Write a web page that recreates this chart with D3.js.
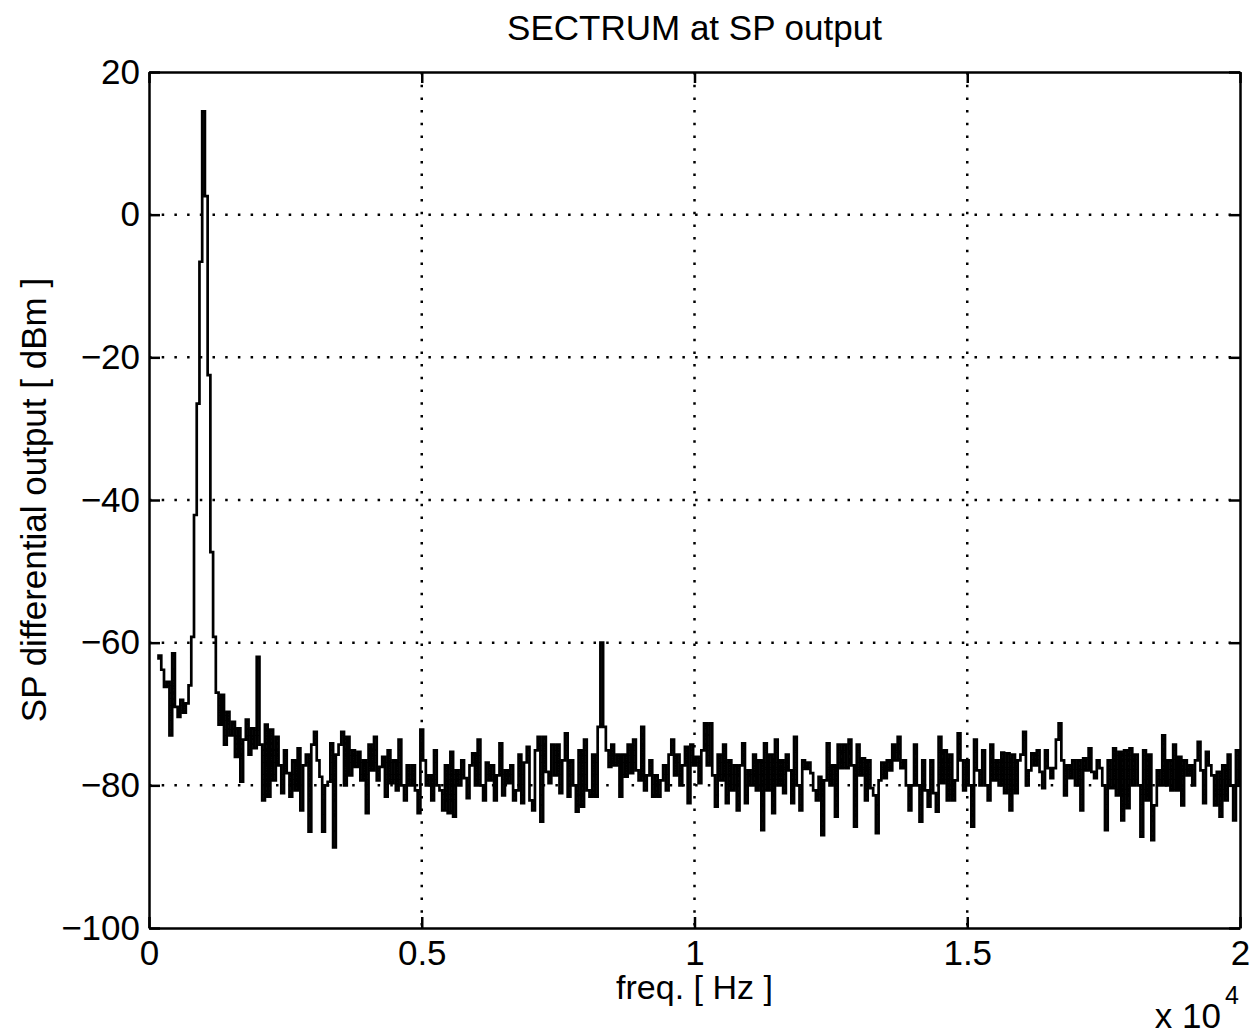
<!DOCTYPE html>
<html>
<head>
<meta charset="utf-8">
<script src="https://cdn.jsdelivr.net/npm/d3@7"></script>
<style>
	body { margin: 0; background: #fff; }
	svg { display: block; }
	text { font-family: "Liberation Sans", Arial, Helvetica, sans-serif; fill: #000; }
</style>
</head>
<body>
<div id="chart"></div>
<script>

const freqStep = 50;

// spectrum level in dBm, one value every 50 Hz, split in runs by start frequency
const lowStart = 150;
const lowLevels = [-62.2, -61.8, -63.8, -66.2, -65.5, -73.0, -61.5, -69.0, -70.4, -68.0, -69.8, -68.5,
	-66.0, -59.2, -42.1, -26.5, -6.6, 14.5, 2.6, -22.5, -47.3, -59.2, -67.0];

const harmStart = 1300;
const harmLevels = [-71.5, -67.3, -74.3, -69.7, -73.0, -71.1, -76.0, -72.0, -79.5, -73.6, -70.8, -75.7,
	-72.0, -74.8, -62.0, -74.3, -82.1, -71.5, -81.6, -72.2, -79.3, -73.2, -77.2, -81.1, -75.1, -78.3,
	-81.6, -76.5, -80.7, -74.8, -83.5];

const midStart = 2850;
const midLevels = [-77.2, -75.7, -86.5, -74.3, -72.5, -76.5, -78.8, -86.5, -80.0, -79.5, -74.1, -88.7,
	-75.7, -74.3, -72.5, -80.0, -73.2, -78.6, -75.1, -77.4, -75.3, -79.3, -76.5, -83.9, -74.3, -77.9,
	-73.2, -79.3, -77.4, -76.0, -81.6, -75.1];

const spurStart = 4450;
const spurLevels = [-79.7, -76.5, -80.7, -73.6, -80.0, -82.1, -77.2, -80.0, -77.2, -80.7,
	-83.9, -72.2, -76.5, -80.0, -78.6, -82.1, -75.1, -80.0, -80.7, -83.5,
	-77.2, -83.9, -75.3, -84.4, -77.9, -80.0, -76.5, -79.0, -81.8, -77.2,
	-75.5, -80.0, -73.6, -80.0, -82.1, -76.8, -79.3, -77.2, -82.1, -78.6,
	-74.1, -81.4, -77.9, -79.7, -77.2, -82.1, -80.7, -75.7, -82.5, -76.8,
	-74.6, -82.1, -83.5, -75.1, -73.2, -85.1, -73.2, -78.1, -79.7, -74.3,
	-78.6, -74.3, -81.1, -76.5, -72.7, -81.6, -76.5, -80.0, -83.7, -75.1,
	-83.0, -73.6, -80.7, -81.6, -75.7, -81.6, -71.8, -60.0, -71.8, -75.1,
	-77.4, -74.3, -77.2, -75.7, -81.6, -75.7, -78.8, -74.3, -78.3, -73.6,
	-77.9];

const highStart = 9000;
const highLevels = [-79.3, -71.8, -80.7, -78.6, -76.5, -81.6, -78.6, -81.6, -79.3, -77.2,
	-80.7, -75.7, -73.6, -78.6, -75.7, -80.0, -77.2, -74.6, -82.5, -74.3,
	-77.2, -76.0, -79.7, -75.1, -71.3, -77.2, -71.3, -78.6, -83.0, -75.7,
	-79.3, -74.3, -82.5, -76.5, -80.7, -77.2, -83.5, -77.2, -74.1, -82.5,
	-77.9, -80.0, -75.7, -80.7, -76.5, -86.3, -74.1, -80.7, -75.7, -83.9,
	-73.6, -80.0, -76.5, -81.1, -75.7, -77.9, -82.5, -73.2, -80.0, -83.5,
	-76.5, -77.7, -76.8, -78.3, -80.7, -82.1, -78.8, -87.0, -79.3, -74.1,
	-80.0];

const upperStart = 12550;
const upperLevels = [-77.2, -84.4, -74.3, -77.6, -74.3, -77.6, -73.6, -77.2, -85.8, -74.3,
	-78.6, -76.2, -82.1, -76.5, -80.4, -81.4, -86.7, -79.3, -76.8, -79.0,
	-76.5, -77.9, -74.3, -76.5, -73.2, -77.6, -76.5, -80.0, -83.5, -80.0,
	-74.3, -80.0, -85.1, -76.5, -80.7, -83.0, -76.5, -81.1, -83.7, -73.2,
	-79.7, -75.1, -82.1, -75.7, -82.1, -79.3, -72.7, -76.5, -80.7, -76.5,
	-80.0, -85.8, -73.6, -77.9, -80.0, -75.1, -80.0, -82.1, -74.3, -79.3,
	-76.5, -80.0, -75.4, -81.1, -75.5, -83.5, -75.7, -81.1, -76.5];

const topStart = 16000;
const topLevels = [-75.7, -72.5, -80.0, -77.9, -75.5, -77.2, -75.1, -78.1, -80.4, -75.1,
	-77.6, -79.0, -77.6, -73.6, -71.3, -76.5, -81.4, -77.2, -79.0, -76.5,
	-80.0, -76.5, -83.5, -76.2, -77.9, -74.8, -78.1, -79.0, -76.5, -77.6,
	-80.0, -86.3, -76.5, -80.4, -74.8, -81.4, -75.3, -84.9, -75.1, -83.2,
	-74.8, -80.0, -75.7, -80.0, -87.2, -75.1, -82.1, -75.7, -87.7, -82.8,
	-77.9, -80.0, -73.0, -80.0, -76.5, -80.7, -74.3, -80.7, -76.0, -82.8,
	-76.5, -78.6, -77.2, -80.0, -76.5, -73.9, -77.9, -82.5, -75.3, -77.2,
	-78.6, -82.8, -78.1, -84.4, -77.2, -82.1, -75.7, -80.0, -84.9, -75.1,
	-80.0];

const xTicks = [0, 5000, 10000, 15000, 20000];
const xTickLabels = ['0', '0.5', '1', '1.5', '2'];
const yTicks = [-100, -80, -60, -40, -20, 0, 20];

const runs = [
	[lowStart, lowLevels], [harmStart, harmLevels], [midStart, midLevels], [spurStart, spurLevels],
	[highStart, highLevels], [upperStart, upperLevels], [topStart, topLevels]
];

const spectrum = [];
runs.forEach(function(r){
	r[1].forEach(function(v, i){
		spectrum.push({ f: r[0] + i * freqStep, db: v });
	});
});

const width = 1254;
const height = 1036;
const margin = { top: 72, right: 14, bottom: 108, left: 149 };
const innerW = width - margin.left - margin.right;
const innerH = height - margin.top - margin.bottom;

const x = d3.scaleLinear().domain([0, 20000]).range([0, innerW]);
const y = d3.scaleLinear().domain([-100, 20]).range([innerH, 0]);

const svg = d3.select('#chart')
	.append('svg')
	.attr('width', width)
	.attr('height', height);

svg.append('text')
	.attr('x', margin.left + innerW / 2)
	.attr('y', 40)
	.attr('text-anchor', 'middle')
	.style('font-size', '35px')
	.text('SECTRUM at SP output');

const g = svg.append('g')
	.attr('transform', 'translate(' + margin.left + ',' + margin.top + ')');

// dotted grid
g.append('g').selectAll('line')
	.data(xTicks.slice(1, -1))
  .enter().append('line')
	.attr('x1', d => x(d)).attr('x2', d => x(d))
	.attr('y1', 0).attr('y2', innerH)
	.attr('stroke', '#000')
	.attr('stroke-width', 2.5)
	.attr('stroke-dasharray', '2.5,10.2');

g.append('g').selectAll('line')
	.data(yTicks.slice(1, -1))
  .enter().append('line')
	.attr('x1', 0).attr('x2', innerW)
	.attr('y1', d => y(d)).attr('y2', d => y(d))
	.attr('stroke', '#000')
	.attr('stroke-width', 2.5)
	.attr('stroke-dasharray', '2.5,10.2');

const line = d3.line()
	.x(d => x(d.f))
	.y(d => y(d.db))
	.curve(d3.curveStep);

g.append('path')
	.datum(spectrum)
	.attr('d', line)
	.attr('fill', 'none')
	.attr('stroke', '#000')
	.attr('stroke-width', 2.7);

const fmt = d => xTickLabels[xTicks.indexOf(d)];

const bottomAxis = g.append('g')
	.attr('transform', 'translate(0,' + innerH + ')')
	.call(d3.axisBottom(x).tickValues(xTicks).tickFormat(fmt)
		.tickSizeInner(-11).tickSizeOuter(0).tickPadding(12));

const topAxis = g.append('g')
	.call(d3.axisTop(x).tickValues(xTicks).tickFormat('')
		.tickSizeInner(-11).tickSizeOuter(0));

const leftAxis = g.append('g')
	.call(d3.axisLeft(y).tickValues(yTicks).tickFormat(d => d < 0 ? '\u2212' + Math.abs(d) : d)
		.tickSizeInner(-11).tickSizeOuter(0).tickPadding(9));

const rightAxis = g.append('g')
	.attr('transform', 'translate(' + innerW + ',0)')
	.call(d3.axisRight(y).tickValues(yTicks).tickFormat('')
		.tickSizeInner(-11).tickSizeOuter(0));

[bottomAxis, topAxis, leftAxis, rightAxis].forEach(function(a){
	a.select('.domain').attr('stroke', '#000').attr('stroke-width', 2.5);
	a.selectAll('.tick line').attr('stroke', '#000').attr('stroke-width', 2.5);
	a.selectAll('text').style('font-size', '35px').style('font-family', null);
});

svg.append('text')
	.attr('x', margin.left + innerW / 2)
	.attr('y', 999)
	.attr('text-anchor', 'middle')
	.style('font-size', '34px')
	.text('freq. [ Hz ]');

svg.append('text')
	.attr('transform', 'translate(46,' + (margin.top + innerH / 2) + ') rotate(-90)')
	.attr('text-anchor', 'middle')
	.style('font-size', '35px')
	.text('SP differential output [ dBm ]');

svg.append('text')
	.attr('x', 1221)
	.attr('y', 1028)
	.attr('text-anchor', 'end')
	.style('font-size', '35px')
	.text('x 10');

svg.append('text')
	.attr('x', 1225)
	.attr('y', 1004)
	.style('font-size', '25px')
	.text('4');

</script>
</body>
</html>
